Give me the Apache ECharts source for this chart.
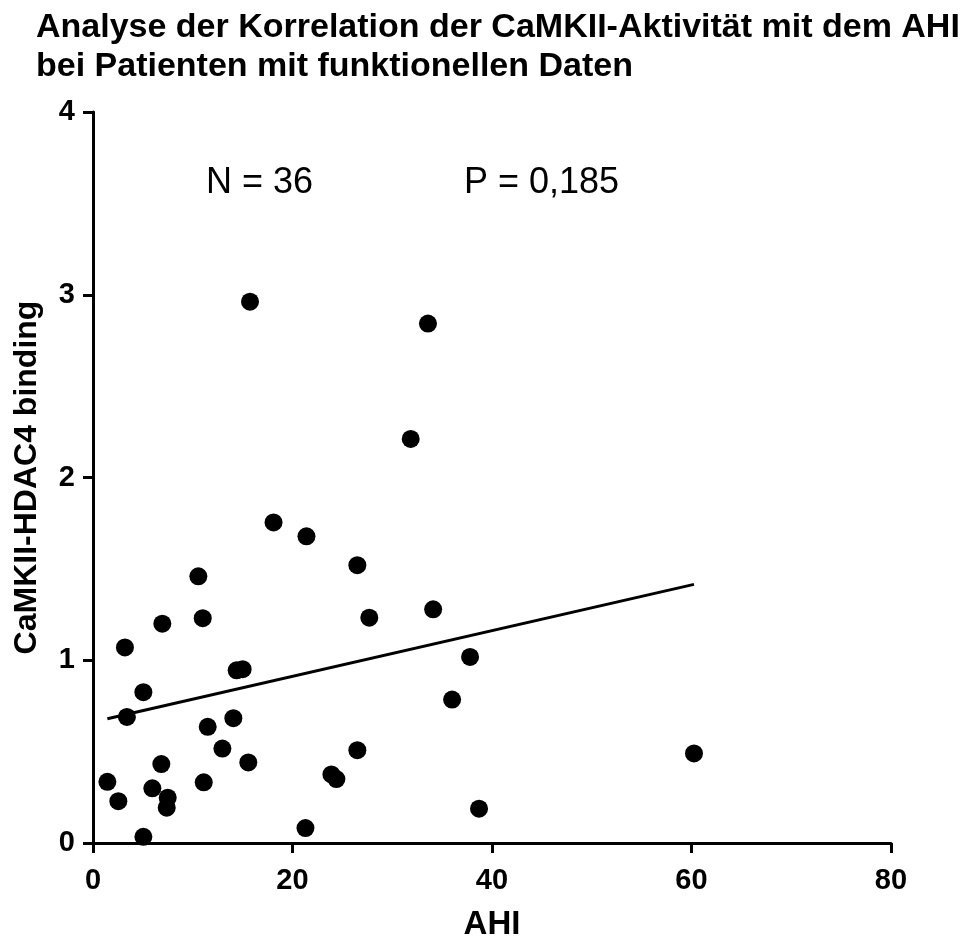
<!DOCTYPE html>
<html>
<head>
<meta charset="utf-8">
<script src="https://cdn.jsdelivr.net/npm/echarts@6/dist/echarts.min.js"></script>
<style>
  html, body { margin: 0; padding: 0; background: #fff; }
  #chart { width: 970px; height: 937px; }
</style>
</head>
<body>
<div id="chart"></div>
<script>
// AHI per patient (x) and CaMKII-HDAC4 binding (y)
const ahi = [
  10.56, 11.0, 6.95, 3.2, 14.4, 15.0, 5.05, 3.4, 14.07, 11.5,
  12.97, 15.57, 6.85, 1.44, 11.1, 5.95, 7.49, 7.39, 2.54, 5.05,
  21.3, 23.9, 24.4, 26.5, 26.5, 27.7, 33.58, 31.85, 21.4, 34.1,
  37.8, 18.1, 15.74, 36.0, 38.7, 60.25
];
const binding = [
  1.459, 1.23, 1.20, 1.07, 0.945, 0.951, 0.825, 0.69, 0.683, 0.636,
  0.517, 0.441, 0.432, 0.335, 0.332, 0.299, 0.248, 0.193, 0.229, 0.034,
  0.082, 0.375, 0.35, 0.508, 1.52, 1.233, 2.842, 2.211, 1.678, 1.279,
  1.018, 1.754, 2.962, 0.785, 0.188, 0.49
];
// Linear regression line endpoints
const fitX = [1.44, 60.25];
const fitY = [0.68, 1.415];

const xTicks = [0, 20, 40, 60, 80];
const yTicks = [0, 1, 2, 3, 4];

const titleLines = ['Analyse der Korrelation der CaMKII-Aktivität mit dem AHI', 'bei Patienten mit funktionellen Daten'];
const statN = 'N = 36';
const statP = 'P = 0,185';

const FONT = 'Arial, "Liberation Sans", Helvetica, sans-serif';

const chart = echarts.init(document.getElementById('chart'));
chart.setOption({
  animation: false,
  backgroundColor: '#fff',
  title: [
    { text: titleLines.join('\n'), left: 31, top: 3,
      textStyle: { fontFamily: FONT, fontWeight: 'bold', fontSize: 34, lineHeight: 39, color: '#000' } },
    { text: statN, left: 201, top: 160,
      textStyle: { fontFamily: FONT, fontWeight: 'normal', fontSize: 36, color: '#000' } },
    { text: statP, left: 459, top: 160,
      textStyle: { fontFamily: FONT, fontWeight: 'normal', fontSize: 36, color: '#000' } }
  ],
  grid: { left: 93, right: 79, top: 112, bottom: 94, containLabel: false, outerBoundsMode: 'none' },
  xAxis: {
    type: 'value', min: xTicks[0], max: xTicks[xTicks.length - 1], interval: 20,
    name: 'AHI', nameLocation: 'middle', nameGap: 65,
    nameTextStyle: { fontFamily: FONT, fontWeight: 'bold', fontSize: 33, color: '#000' },
    axisLine: { show: true, lineStyle: { color: '#000', width: 3 } },
    axisTick: { show: true, length: 10, lineStyle: { color: '#000', width: 3 } },
    axisLabel: { fontFamily: FONT, fontWeight: 'bold', fontSize: 29, color: '#000', margin: 23 },
    splitLine: { show: false }
  },
  yAxis: {
    type: 'value', min: yTicks[0], max: yTicks[yTicks.length - 1], interval: 1,
    name: 'CaMKII-HDAC4 binding', nameLocation: 'middle', nameGap: 50,
    nameTextStyle: { fontFamily: FONT, fontWeight: 'bold', fontSize: 32, color: '#000' },
    axisLine: { show: true, lineStyle: { color: '#000', width: 3 } },
    axisTick: { show: true, length: 10, lineStyle: { color: '#000', width: 3 } },
    axisLabel: { fontFamily: FONT, fontWeight: 'bold', fontSize: 29, color: '#000', margin: 18 },
    splitLine: { show: false }
  },
  series: [
    {
      type: 'line',
      data: fitX.map((x, i) => [x, fitY[i]]),
      symbol: 'none',
      lineStyle: { color: '#000', width: 3 },
      z: 2
    },
    {
      type: 'scatter',
      data: ahi.map((x, i) => [x, binding[i]]),
      symbol: 'circle',
      symbolSize: 18,
      itemStyle: { color: '#000', opacity: 1 },
      z: 3
    }
  ]
});
</script>
</body>
</html>
